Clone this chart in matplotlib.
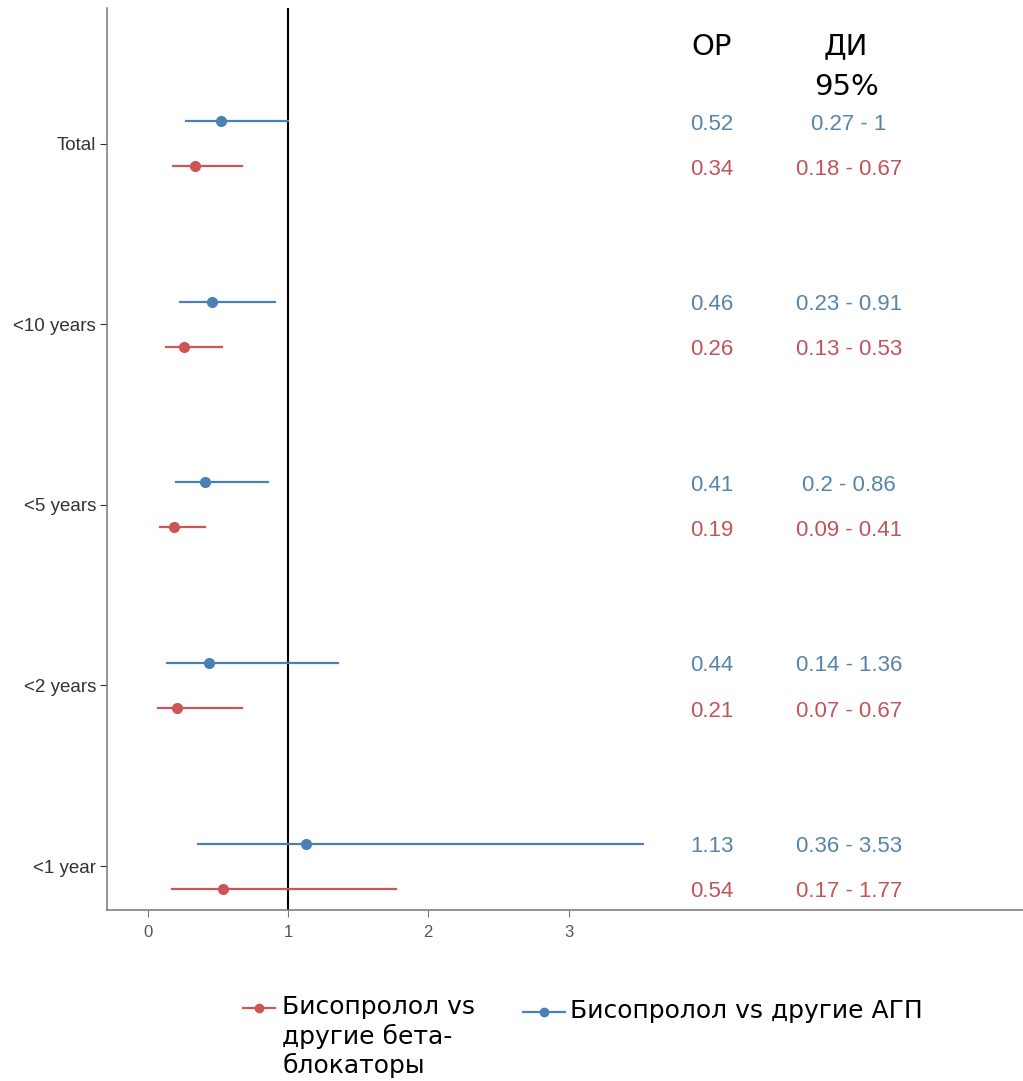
import matplotlib.pyplot as plt
from matplotlib.lines import Line2D

# groups, top to bottom
groups = ["Total", "<10 years", "<5 years", "<2 years", "<1 year"]

# Бисопролол vs другие АГП (blue)
blue_or = [0.52, 0.46, 0.41, 0.44, 1.13]
blue_lo = [0.27, 0.23, 0.20, 0.14, 0.36]
blue_hi = [1.00, 0.91, 0.86, 1.36, 3.53]
blue_ci_txt = ["0.27 - 1", "0.23 - 0.91", "0.2 - 0.86", "0.14 - 1.36", "0.36 - 3.53"]

# Бисопролол vs другие бета-блокаторы (red)
red_or = [0.34, 0.26, 0.19, 0.21, 0.54]
red_lo = [0.18, 0.13, 0.09, 0.07, 0.17]
red_hi = [0.67, 0.53, 0.41, 0.67, 1.77]
red_ci_txt = ["0.18 - 0.67", "0.13 - 0.53", "0.09 - 0.41", "0.07 - 0.67", "0.17 - 1.77"]

x_ticks = [0, 1, 2, 3]

blue = "#4a80b5"
red = "#cc5555"
blue_txt = "#5684aa"
red_txt = "#c0555a"

fig = plt.figure(figsize=(10.23, 10.81), dpi=100)
ax = fig.add_axes([0.1046, 0.158, 0.8954, 0.835])

n = len(groups)
ypos = [n - 1 - i for i in range(n)]
off = 0.125
toff = -0.017  # small nudge for text rows

for i, y in enumerate(ypos):
    ax.plot([blue_lo[i], blue_hi[i]], [y + off] * 2, color=blue, lw=1.6, zorder=3)
    ax.plot(blue_or[i], y + off, "o", color=blue, ms=7, zorder=4)
    ax.plot([red_lo[i], red_hi[i]], [y - off] * 2, color=red, lw=1.6, zorder=3)
    ax.plot(red_or[i], y - off, "o", color=red, ms=7, zorder=4)

    # text columns
    kw = dict(fontsize=16, family="Liberation Sans", ha="center", va="center")
    ax.text(4.02, y + off + toff, f"{blue_or[i]:.2f}", color=blue_txt, **kw)
    ax.text(5.0, y + off + toff, blue_ci_txt[i], color=blue_txt, **kw)
    ax.text(4.02, y - off + toff, f"{red_or[i]:.2f}", color=red_txt, **kw)
    ax.text(5.0, y - off + toff, red_ci_txt[i], color=red_txt, **kw)

ax.axvline(1, color="black", lw=1.5, zorder=2)

# headers
ax.text(4.02, ypos[0] + 0.537, "ОР", fontsize=21, ha="center", va="center")
ax.text(4.98, ypos[0] + 0.537, "ДИ", fontsize=21, ha="center", va="center")
ax.text(4.98, ypos[0] + 0.315, "95%", fontsize=21, ha="center", va="center")

ax.set_xlim(-0.29, 6.24)
ax.set_ylim(-0.244, n - 1 + 0.753)
ax.set_xticks(x_ticks)
ax.set_xticklabels([str(t) for t in x_ticks], family="Liberation Sans",
                   fontsize=12, color="#555555")
ax.set_yticks(ypos)
ax.set_yticklabels(groups, family="Liberation Sans", fontsize=13.5, color="#333333")
ax.tick_params(axis="x", length=5, color="#777777", pad=6)
ax.tick_params(axis="y", length=5, color="#333333", pad=3)
for s in ["top", "right"]:
    ax.spines[s].set_visible(False)
for s in ["left", "bottom"]:
    ax.spines[s].set_color("#777777")
    ax.spines[s].set_linewidth(1.1)

# legend, drawn by hand so the keys sit on the first text line
W, H = 1023.0, 1081.0
legend_items = [
    (red, "Бисопролол vs\nдругие бета-\nблокаторы", 243, 275, 1008, 282),
    (blue, "Бисопролол vs другие АГП", 523, 565, 1012, 570),
]
for color, label, x0, x1, yk, xt in legend_items:
    fig.add_artist(Line2D([x0 / W, (x0 + x1) / 2 / W, x1 / W], [1 - yk / H] * 3,
                          transform=fig.transFigure, color=color, lw=1.6,
                          marker="o", ms=6, markevery=[1]))
    fig.text(xt / W, 1 - (yk - 13) / H, label, fontsize=18, ha="left", va="top",
             linespacing=1.22)

fig.savefig("out.png", dpi=100)
